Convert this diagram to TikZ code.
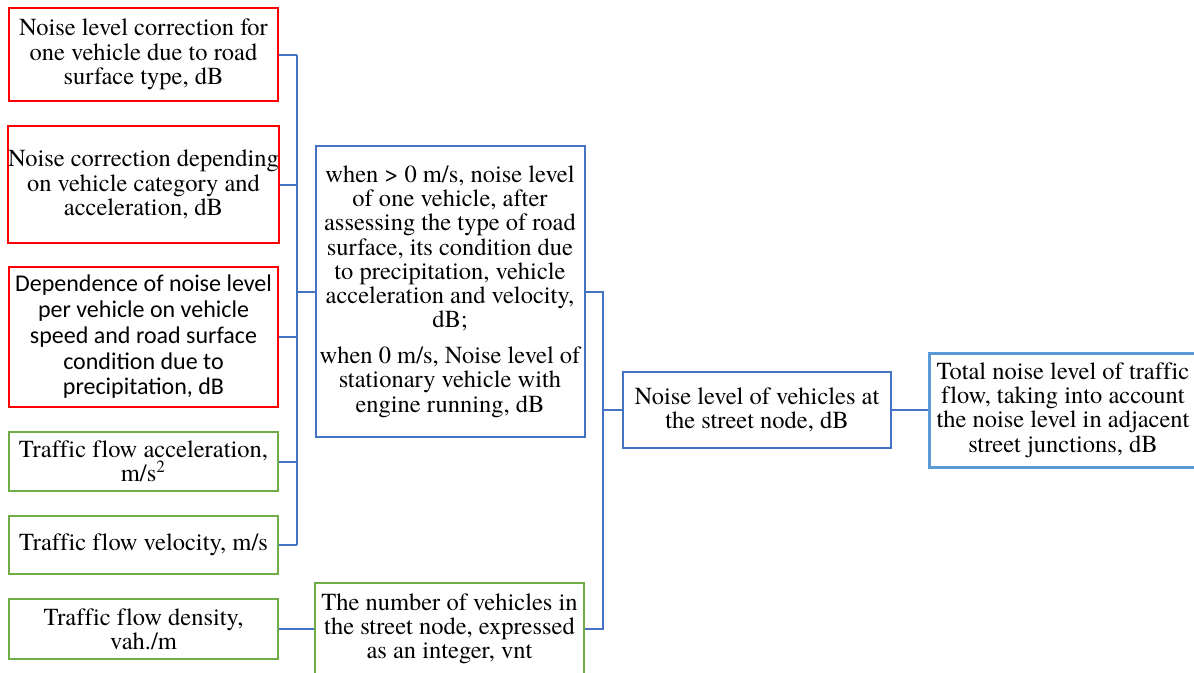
\documentclass[tikz,border=0pt]{standalone}
\usepackage{fontspec}
\setmainfont{texgyretermes-regular.otf}[BoldFont=texgyretermes-bold.otf,Ligatures=CommonOff]
\newfontfamily\calibrifont{Carlito}
\definecolor{boxred}{HTML}{FF0000}
\definecolor{boxgreen}{HTML}{70AD47}
\definecolor{boxblue}{HTML}{4472C4}
\definecolor{boxsky}{HTML}{5B9BD5}
\begin{document}
\begin{tikzpicture}[x=0.4pt,y=-0.4pt,
    every node/.style={align=center,inner sep=0pt,font=\fontsize{9.8}{9.7}\selectfont},
    redbox/.style={draw=boxred,line width=0.8pt,minimum width=107.2pt},
    greenbox/.style={draw=boxgreen,line width=0.8pt,minimum width=107.2pt},
    bluebox/.style={draw=boxblue,line width=0.8pt,minimum width=107.6pt},
    link/.style={draw=boxblue,line width=0.8pt}]
  \useasboundingbox (0,0) rectangle (1194,673);
  \clip (0,0) rectangle (1194,673);
  % inputs
  \node[redbox,minimum height=37.2pt] (road) at (143.5,54.5) {Noise level correction for\\one vehicle due to road\\surface type, dB};
  \node[redbox,minimum height=46.8pt] (category) at (143.5,184.5) {Noise correction depending\\on vehicle category and\\acceleration, dB};
  \node[redbox,minimum height=56pt,font=\calibrifont\fontsize{9.6}{10.3}\selectfont] (speed) at (143.5,337) {Dependence of noise level\\per vehicle on vehicle\\speed and road surface\\condition due to\\precipitation, dB};
  \node[greenbox,minimum height=23.6pt] (accel) at (143.5,461.5) {Traffic flow acceleration,\\m/s\textsuperscript{2}};
  \node[greenbox,minimum height=23.2pt] (velocity) at (143.5,545) {Traffic flow velocity, m/s};
  \node[greenbox,minimum height=24pt] (density) at (143.5,629) {Traffic flow density,\\vah./m};
  % middle
  \node[bluebox,minimum height=116.4pt] (single) at (450,291.5) {when > 0 m/s, noise level\\of one vehicle, after\\assessing the type of road\\surface, its condition due\\to precipitation, vehicle\\acceleration and velocity,\\dB;\\[4.6pt]when 0 m/s, Noise level of\\stationary vehicle with\\engine running, dB};
  \node[greenbox,minimum width=107.6pt,minimum height=36.8pt] (count) at (449.5,629) {The number of vehicles in\\the street node, expressed\\as an integer, vnt};
  % outputs
  \node[bluebox,minimum width=107.2pt,minimum height=30.4pt] (street) at (757,410) {Noise level of vehicles at\\the street node, dB};
  \node[draw=boxsky,line width=1.2pt,minimum width=107.2pt,minimum height=45.6pt] (total) at (1063,410) {Total noise level of traffic\\flow, taking into account\\the noise level in adjacent\\street junctions, dB};
  % connectors
  \coordinate (busA) at (297,0);
  \coordinate (busB) at (603,0);
  \foreach \n in {road,category,speed,accel,velocity}
    \draw[link] (\n.east) -- (\n.east -| busA);
  \draw[link] (road.east -| busA) -- (velocity.east -| busA);
  \draw[link] (single.west -| busA) -- (single.west);
  \draw[link] (density.east) -- (count.west);
  \draw[link] (single.east) -- (single.east -| busB) -- (count.east -| busB) -- (count.east);
  \draw[link] (street.west -| busB) -- (street.west);
  \draw[link] (street.east) -- (total.west);
\end{tikzpicture}
\end{document}
